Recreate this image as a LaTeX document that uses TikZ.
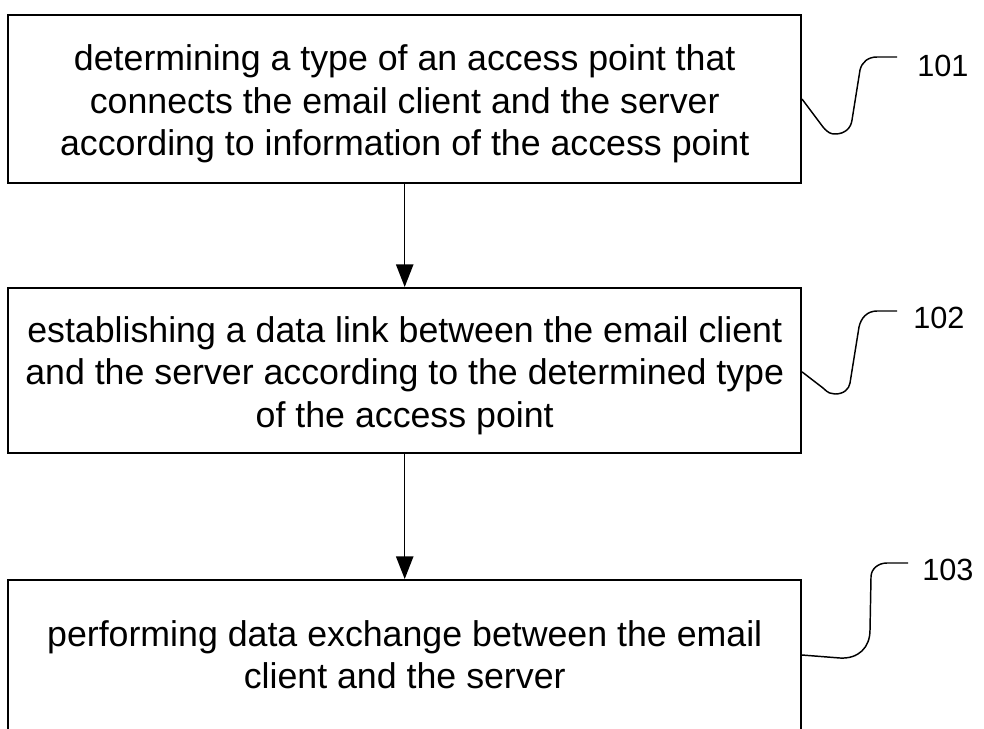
\documentclass[tikz,border=0pt]{standalone}
\usepackage{fontspec}
\setmainfont{Liberation Sans}
\usetikzlibrary{arrows.meta}
\begin{document}
\begin{tikzpicture}[x=0.75pt,y=-0.75pt,
  box/.style={draw, line width=1.5pt, minimum width=594.4pt, inner sep=0pt},
  boxtext/.style={font=\fontsize{26.8}{31.8}\selectfont, align=center, inner sep=0pt},
  arr/.style={line width=1.1pt, -{Triangle[length=17pt,width=13pt]}},
  lead/.style={line width=1.1pt, line join=round},
  lab/.style={font=\fontsize{23}{27}\selectfont, inner sep=0pt, anchor=west}]
\useasboundingbox (0,0) rectangle (984,728);
\clip (0,0) rectangle (984,728);

\node[box, minimum height=126pt] (box1) at (404.7,99) {};
\node[boxtext] (t1) at (404.7,104)
  {determining a type of an access point that\\connects the email client and the server\\according to information of the access point};
\node[box, minimum height=123.75pt] (box2) at (404.7,370.5) {};
\node[boxtext] (t2) at (404.7,375.5)
  {establishing a data link between the email client\\and the server according to the determined type\\of the access point};
\node[box, minimum height=120pt] (box3) at (404.7,660) {};
\node[boxtext] (t3) at (404.7,655)
  {performing data exchange between the email\\client and the server};

\draw[arr] (box1.south) -- (box2.north);
\draw[arr] (box2.south) -- (box3.north);

\coordinate (l1) at (897,57);
\coordinate (l2) at (897,311);
\coordinate (l3) at (908,563);

\draw[lead] (box1.east) -- (823,127) .. controls (828,133) and (831,134) .. (835,134)
  .. controls (845,134) and (851,128) .. (852,120) -- (860,70)
  .. controls (862,62) and (868,57) .. (877,57) -- (l1);
\draw[lead] ([yshift=-1pt]box2.east) -- (823,388) .. controls (828,393) and (831,394) .. (835,394)
  .. controls (844,394) and (849,389) .. (850,383) -- (859,327)
  .. controls (861,318) and (867,311) .. (877,311) -- (l2);
\draw[lead] ([yshift=3.75pt]box3.east) -- (840,658) .. controls (858,659) and (870,648) .. (870,630)
  -- (871,577) .. controls (871,569) and (878,563) .. (887,563) -- (l3);

\node[lab] (n101) at (917,66) {101};
\node[lab] (n102) at (913,318) {102};
\node[lab] (n103) at (922,570) {103};
\end{tikzpicture}
\end{document}
